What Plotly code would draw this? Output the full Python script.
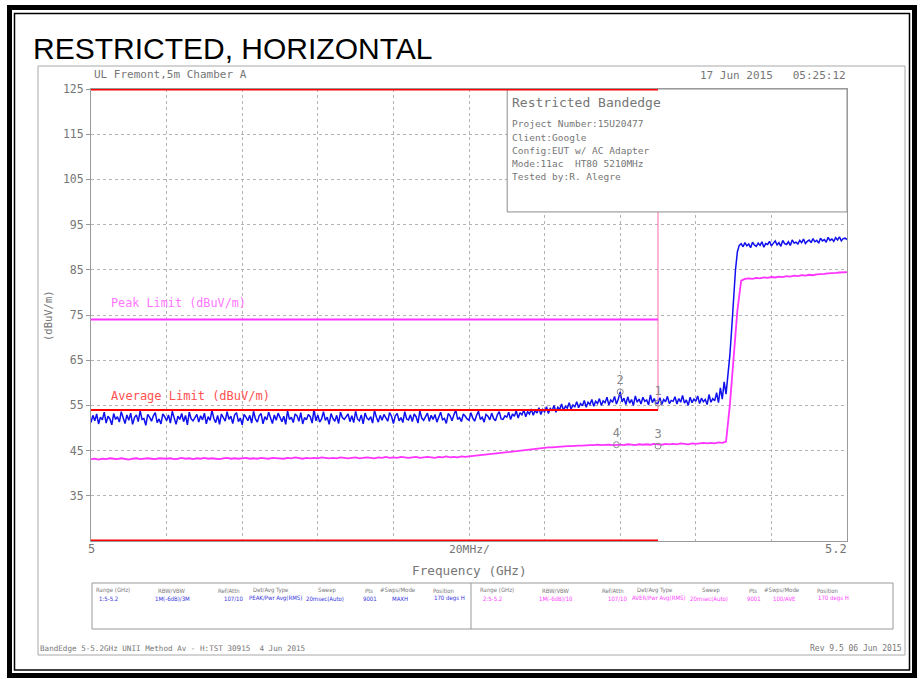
import numpy as np
import plotly.graph_objects as go

# ---------------- data ----------------
title_text = "RESTRICTED, HORIZONTAL"
f_start, f_stop = 5.0, 5.2

# Peak (max-hold) trace, dBuV/m, 0.5 MHz steps
peak_db = [
    51.2, 52.8, 51.6, 53.1, 50.9, 52.4, 51.8, 53.5, 51.1, 52.6, 52.0, 50.7, 53.2, 51.9, 52.5, 51.3, 53.6, 52.2, 51.0, 52.9,
    51.7, 53.3, 50.8, 52.3, 52.9, 51.4, 53.8, 51.9, 52.1, 50.6, 53.0, 52.4, 51.5, 52.7, 53.4, 51.2, 52.0, 50.9, 53.1, 52.5,
    51.6, 52.9, 51.1, 53.7, 52.2, 50.8, 52.6, 51.9, 53.2, 51.4, 52.8, 50.7, 53.5, 52.0, 51.6, 52.4, 53.0, 51.3, 52.7, 51.8,
    53.3, 50.9, 52.5, 51.7, 53.9, 52.1, 51.2, 52.8, 50.8, 53.1, 52.3, 51.5, 53.6, 51.9, 52.6, 51.0, 52.9, 53.4, 51.4, 52.2,
    50.7, 53.0, 52.4, 51.6, 52.8, 51.1, 53.7, 52.0, 51.3, 52.7, 53.2, 50.9, 52.5, 51.8, 53.5, 52.1, 51.0, 52.9, 51.7, 53.3,
    52.2, 51.4, 52.6, 50.8, 53.8, 51.9, 52.4, 51.2, 53.1, 52.7, 51.5, 53.4, 50.9, 52.3, 51.8, 53.0, 52.5, 51.1, 54.1, 51.6,
    52.9, 51.3, 52.0, 53.6, 51.7, 52.4, 50.8, 53.2, 52.1, 51.5, 52.8, 51.0, 53.5, 52.3, 51.9, 52.6, 53.1, 51.4, 52.7, 51.2,
    53.7, 52.0, 51.6, 52.9, 50.9, 53.3, 52.2, 51.8, 52.5, 51.1, 53.9, 52.4, 51.3, 52.8, 51.7, 53.0, 52.1, 51.5, 53.4, 52.6,
    51.0, 52.7, 53.2, 51.6, 52.3, 51.2, 53.6, 52.0, 51.8, 52.9, 51.4, 53.1, 52.5, 51.1, 53.8, 52.2, 51.7, 52.6, 53.3, 51.5,
    52.8, 51.9, 53.0, 51.3, 52.4, 53.5, 51.8, 52.1, 51.0, 53.2, 52.7, 51.6, 52.9, 54.0, 51.9, 52.3, 51.4, 53.1, 52.6, 52.0,
    51.7, 53.4, 52.2, 51.5, 52.8, 53.7, 51.9, 52.4, 51.3, 53.0, 52.6, 51.8, 53.3, 52.1, 51.6, 52.9, 53.6, 52.0, 51.9, 52.7,
    52.4, 53.5, 51.9, 53.1, 52.6, 53.8, 52.2, 53.4, 52.9, 54.0, 52.5, 53.6, 53.1, 54.2, 52.8, 53.9, 53.3, 54.5, 53.0, 54.1,
    53.6, 54.7, 53.2, 54.3, 53.8, 55.0, 53.5, 54.6, 54.1, 55.3, 53.9, 54.8, 54.4, 55.6, 54.2, 55.1, 54.7, 55.8, 54.5, 55.4,
    54.9, 56.1, 54.6, 55.7, 55.2, 56.3, 54.8, 55.9, 55.4, 56.5, 55.0, 56.0, 55.6, 56.8, 55.1, 56.2, 55.7, 57.0, 55.3, 56.4,
    58.0, 55.8, 56.6, 55.2, 56.9, 55.5, 56.3, 55.0, 57.1, 55.7, 56.4, 55.3, 56.8, 55.9, 56.2, 55.1, 57.3, 55.6, 56.5, 55.4,
    55.5, 56.7, 55.2, 56.3, 55.8, 57.0, 55.4, 56.1, 55.9, 56.9, 55.3, 56.5, 55.7, 57.2, 55.5, 56.2, 55.0, 56.8, 55.6, 56.4,
    55.9, 57.1, 55.4, 56.6, 55.8, 56.3, 55.2, 57.4, 55.7, 56.5, 56.0, 57.8, 55.6, 58.9, 56.4, 60.2, 57.5, 61.5, 66.0, 72.0,
    79.0, 85.0, 89.0, 90.4, 90.8, 90.1, 91.0, 90.3, 90.7, 89.9, 91.1, 90.5, 90.2, 90.9, 90.4, 91.2, 90.0, 90.8, 90.6, 91.3,
    90.3, 90.9, 91.4, 90.5, 91.0, 90.2, 91.5, 90.8, 90.6, 91.2, 90.4, 91.6, 90.9, 91.1, 90.7, 91.5, 91.0, 91.8, 90.8, 91.3,
    91.6, 91.0, 91.9, 91.2, 91.5, 90.9, 92.0, 91.4, 91.7, 91.1, 92.2, 91.5, 91.8, 91.3, 92.1, 91.6, 92.3, 91.4, 91.9, 92.0,
    91.7,
]

# Average (RMS) trace, dBuV/m, 1 MHz steps
avg_db = [
    43.1, 43.2, 43.0, 43.2, 43.1, 43.3, 43.2, 43.1, 43.3, 43.2, 43.0, 43.2, 43.3, 43.1, 43.2, 43.3, 43.2, 43.1, 43.3, 43.2,
    43.2, 43.3, 43.1, 43.2, 43.4, 43.2, 43.3, 43.1, 43.3, 43.2, 43.4, 43.2, 43.3, 43.2, 43.1, 43.3, 43.4, 43.2, 43.3, 43.2,
    43.3, 43.4, 43.2, 43.3, 43.2, 43.4, 43.3, 43.2, 43.4, 43.3, 43.3, 43.2, 43.4, 43.3, 43.5, 43.3, 43.2, 43.4, 43.3, 43.4,
    43.3, 43.5, 43.4, 43.3, 43.4, 43.3, 43.5, 43.4, 43.3, 43.4, 43.5, 43.3, 43.4, 43.5, 43.4, 43.3, 43.5, 43.4, 43.6, 43.4,
    43.5, 43.4, 43.6, 43.5, 43.4, 43.5, 43.6, 43.4, 43.5, 43.6, 43.5, 43.4, 43.6, 43.5, 43.7, 43.5, 43.6, 43.5, 43.7, 43.6,
    43.7, 43.8, 43.9, 44.0, 44.1, 44.2, 44.2, 44.4, 44.5, 44.6, 44.7, 44.8, 44.9, 45.0, 45.1, 45.1, 45.3, 45.4, 45.4, 45.5,
    45.6, 45.7, 45.7, 45.8, 45.9, 45.9, 46.0, 46.0, 46.1, 46.1, 46.1, 46.2, 46.2, 46.2, 46.3, 46.2, 46.3, 46.3, 46.2, 46.3,
    46.3, 46.2, 46.4, 46.3, 46.2, 46.4, 46.3, 46.4, 46.3, 46.5, 46.4, 46.3, 46.5, 46.4, 46.5, 46.4, 46.6, 46.5, 46.4, 46.6,
    46.5, 46.6, 46.7, 46.6, 46.7, 46.6, 46.8, 46.7, 47.0, 55.0, 66.0, 76.0, 82.6, 83.0, 83.1, 83.0, 83.2, 83.1, 83.3, 83.2,
    83.4, 83.3, 83.5, 83.4, 83.6, 83.5, 83.7, 83.6, 83.8, 83.7, 83.9, 83.8, 84.0, 84.0, 84.1, 84.2, 84.2, 84.3, 84.4, 84.4,
    84.5,
]

band_edge = 5.15          # GHz, restricted band edge
peak_limit = 74           # dBuV/m
avg_limit = 54            # dBuV/m
y_min, y_max = 25, 125
y_ticks = [35, 45, 55, 65, 75, 85, 95, 105, 115, 125]

marker_ids = ["1", "2", "3", "4"]
marker_freq = [5.15, 5.14, 5.15, 5.139]
marker_db = [55.5, 58.0, 46.0, 46.3]

info_title = "Restricted Bandedge"
info_lines = ["Project Number:15U20477", "Client:Google", "Config:EUT w/ AC Adapter",
              "Mode:11ac  HT80 5210MHz", "Tested by:R. Alegre"]

tbl_headers = ["Range (GHz)", "RBW/VBW", "Ref/Attn", "Det/Avg Type", "Sweep", "Pts", "#Swps/Mode", "Position"]
tbl_vals_1 = ["1:5-5.2", "1M(-6dB)/3M", "107/10", "PEAK/Pwr Avg(RMS)", "20msec(Auto)", "9001", "MAXH", "170 degs H"]
tbl_vals_2 = ["2:5-5.2", "1M(-6dB)/10", "107/10", "AVER/Pwr Avg(RMS)", "20msec(Auto)", "9001", "100/AVE", "170 degs H"]

peak_freq = np.linspace(f_start, f_stop, len(peak_db))
avg_freq = np.linspace(f_start, f_stop, len(avg_db))

# ---------------- layout helpers ----------------
W, H = 923, 679
L, R, T, B = 91, 847, 89, 541


def PX(x):
    return (x - L) / (R - L)


def PY(y):
    return (B - y) / (B - T)


NARROW = "Liberation Sans Narrow, DejaVu Sans Condensed, Arial Narrow, sans-serif"
MONO = "DejaVu Sans Mono, Liberation Mono, monospace"
GRAY = "#767676"
BLUE = "#1010ee"
MAG = "#ff33ff"
RED = "#ff0000"

fig = go.Figure()

# vertical band-edge line (sits under the info box)
fig.add_trace(go.Scatter(x=[band_edge, band_edge], y=[avg_limit, y_max], mode="lines",
                         line=dict(color="#ff6fa8", width=1), hoverinfo="skip", showlegend=False))
fig.add_trace(go.Scatter(x=avg_freq, y=avg_db, mode="lines",
                         line=dict(color=MAG, width=1.8), showlegend=False))
fig.add_trace(go.Scatter(x=peak_freq, y=peak_db, mode="lines",
                         line=dict(color=BLUE, width=1.5), showlegend=False))
fig.add_trace(go.Scatter(x=marker_freq, y=marker_db, mode="markers+text", text=marker_ids,
                         textposition="top center",
                         textfont=dict(family=MONO, size=12, color="#888888"),
                         marker=dict(symbol="circle-open", size=6, color="#8a8a8a", line=dict(width=1)),
                         showlegend=False))

shapes = []
# info box
shapes.append(dict(type="rect", xref="x", yref="y", x0=5.1101, x1=f_stop, y0=97.8, y1=y_max,
                   fillcolor="white", line=dict(color="#8c8c8c", width=1), layer="above"))
# limit lines
shapes.append(dict(type="line", xref="x", yref="y", x0=f_start, x1=band_edge, y0=peak_limit, y1=peak_limit,
                   line=dict(color=MAG, width=2), layer="above"))
shapes.append(dict(type="line", xref="x", yref="y", x0=f_start, x1=band_edge, y0=avg_limit, y1=avg_limit,
                   line=dict(color=RED, width=2), layer="above"))
shapes.append(dict(type="line", xref="x", yref="y", x0=f_start, x1=band_edge, y0=y_max, y1=y_max,
                   line=dict(color=RED, width=3), layer="above"))
shapes.append(dict(type="line", xref="x", yref="y", x0=f_start, x1=band_edge, y0=y_min, y1=y_min,
                   line=dict(color=RED, width=3), layer="above"))

# page frames
shapes.append(dict(type="rect", xref="paper", yref="paper", x0=PX(9.5), x1=PX(914.5), y0=PY(7.5), y1=PY(675.5),
                   line=dict(color="black", width=5), layer="above"))
shapes.append(dict(type="rect", xref="paper", yref="paper", x0=PX(14.5), x1=PX(909.5), y0=PY(13.5), y1=PY(670),
                   line=dict(color="black", width=1.5), layer="above"))
shapes.append(dict(type="rect", xref="paper", yref="paper", x0=PX(38), x1=PX(905), y0=PY(66), y1=PY(655),
                   line=dict(color="#a8a8a8", width=1), layer="above"))
# settings table
shapes.append(dict(type="rect", xref="paper", yref="paper", x0=PX(92), x1=PX(893), y0=PY(583), y1=PY(629),
                   line=dict(color="#999999", width=1), layer="above"))
shapes.append(dict(type="line", xref="paper", yref="paper", x0=PX(471), x1=PX(471), y0=PY(583), y1=PY(629),
                   line=dict(color="#999999", width=1), layer="above"))

ann = []


def txt(x, y, s, size, color=GRAY, xa="left", family=MONO, angle=0):
    ann.append(dict(x=PX(x), y=PY(y), xref="paper", yref="paper", text=s, showarrow=False,
                    xanchor=xa, yanchor="middle", textangle=angle,
                    font=dict(family=family, size=size, color=color)))


txt(31, 48, title_text, 30, color="black", family="Liberation Sans, Arial, sans-serif")
txt(92, 74, "UL Fremont,5m Chamber A", 11)
txt(848, 76, "17 Jun 2015 &nbsp; 05:25:12", 11, xa="right")
txt(510, 102, info_title, 13)
for i, s in enumerate(info_lines):
    txt(510, 124 + 13 * i, s, 9.5)
txt(109, 303, "Peak Limit (dBuV/m)", 11.8, color="#ff77ff")
txt(109, 396, "Average Limit (dBuV/m)", 12, color="#ff5050")
txt(91, 549, "5", 12, xa="center")
txt(849, 549, "5.2", 12, xa="right")
txt(469, 549, "20MHz/", 11.3, xa="center")
txt(469, 570, "Frequency (GHz)", 12.7, xa="center")
txt(48, 316, "(dBuV/m)", 10.5, xa="center", angle=-90)
txt(38, 648, "BandEdge 5-5.2GHz UNII Method Av - H:TST 30915 &nbsp;4 Jun 2015", 7.6)
txt(904, 648, "Rev 9.5 06 Jun 2015", 8, xa="right")

hdr_x = [113, 172, 229, 271, 327, 369, 398, 443]
val_x = [108, 172, 234, 275, 325, 370, 400, 449]
for off, vals, col in [(0, tbl_vals_1, "#3333dd"), (384, tbl_vals_2, "#ff44ff")]:
    for hx, vx, h, v in zip(hdr_x, val_x, tbl_headers, vals):
        txt(hx + off, 590, h, 6, color="#777777", xa="center", family=NARROW)
        txt(vx + off, 598, v, 6, color=col, xa="center", family=NARROW)

fig.update_layout(
    width=W, height=H,
    margin=dict(l=L, r=W - R, t=T, b=H - B),
    paper_bgcolor="white", plot_bgcolor="white",
    shapes=shapes, annotations=ann,
    xaxis=dict(range=[f_start, f_stop], showticklabels=False, ticks="",
               tickvals=[f_start, 5.1, f_stop],
               showgrid=True, gridcolor="#b4b4b4", griddash="dot", gridwidth=1,
               minor=dict(dtick=0.02, tick0=f_start, showgrid=True, gridcolor="#b4b4b4", griddash="dot", ticks=""),
               showline=True, mirror=True, linecolor="#9a9a9a", linewidth=1, zeroline=False),
    yaxis=dict(range=[y_min, y_max], tickvals=y_ticks, ticktext=[str(v) for v in y_ticks],
               ticks="outside", ticklen=4, tickcolor="#999999",
               tickfont=dict(family=MONO, size=11.5, color=GRAY),
               showgrid=True, gridcolor="#b4b4b4", griddash="dot", gridwidth=1,
               showline=True, mirror=True, linecolor="#9a9a9a", linewidth=1, zeroline=False),
)

fig.write_html("out.html", config={"displayModeBar": False},
               post_script="document.body.style.margin='0px';")
